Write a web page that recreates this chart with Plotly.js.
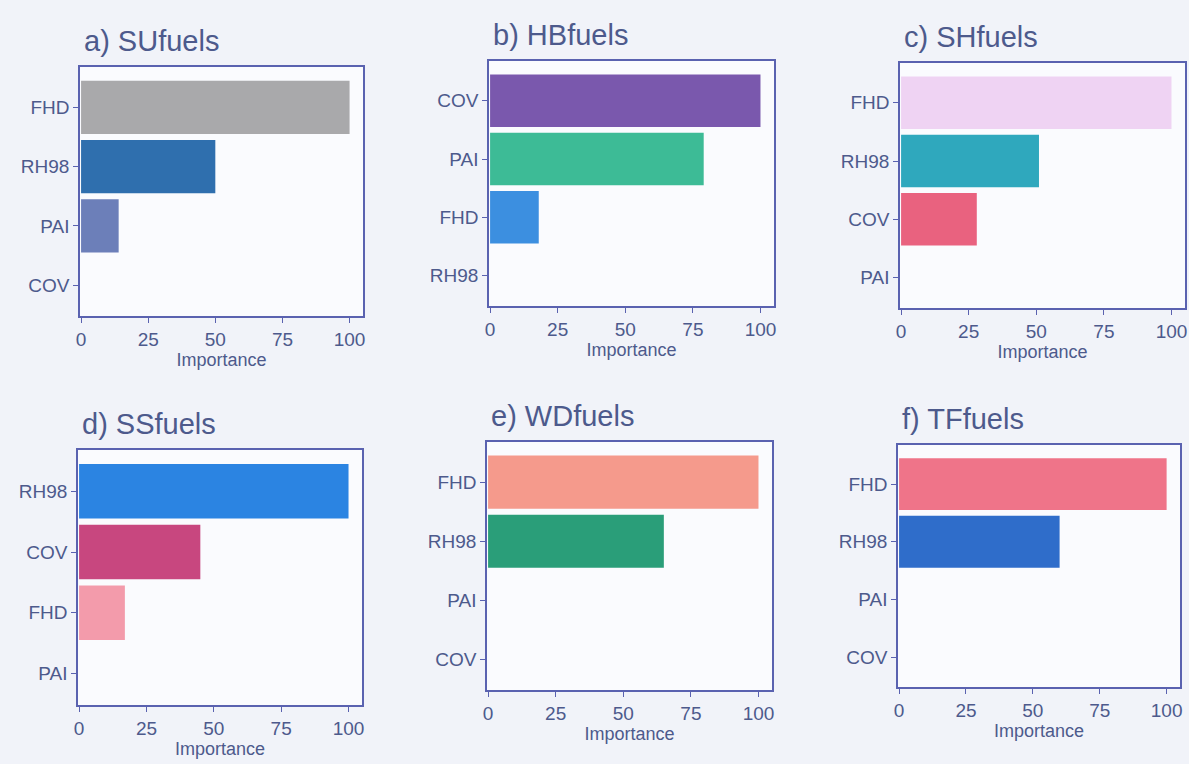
<!DOCTYPE html>
<html>
<head>
<meta charset="utf-8">
<script src="https://cdn.plot.ly/plotly-3.0.1.min.js"></script>
<style>html,body{margin:0;padding:0;background:#f1f3f9;}#chart{width:1189px;height:764px;}</style>
</head>
<body>
<div id="chart"></div>
<script>
// Panel titles
const panelTitles = ["a) SUfuels", "b) HBfuels", "c) SHfuels", "d) SSfuels", "e) WDfuels", "f) TFfuels"];

// Variables (top to bottom) per panel
const catsA = ["FHD", "RH98", "PAI", "COV"];
const catsB = ["COV", "PAI", "FHD", "RH98"];
const catsC = ["FHD", "RH98", "COV", "PAI"];
const catsD = ["RH98", "COV", "FHD", "PAI"];
const catsE = ["FHD", "RH98", "PAI", "COV"];
const catsF = ["FHD", "RH98", "PAI", "COV"];

// Importance values
const valsA = [100, 50, 14, 0];
const valsB = [100, 79, 18, 0];
const valsC = [100, 51, 28, 0];
const valsD = [100, 45, 17, 0];
const valsE = [100, 65, 0, 0];
const valsF = [100, 60, 0, 0];

// Bar colours
const colsA = ["#a9a9ab", "#2f6fae", "#6c7fb9", "#cccccc"];
const colsB = ["#7a58ad", "#3dbb96", "#3c8fe0", "#cccccc"];
const colsC = ["#efd3f3", "#2fa8bd", "#e9627f", "#cccccc"];
const colsD = ["#2b84e2", "#c8477f", "#f39bab", "#cccccc"];
const colsE = ["#f59a8c", "#2a9e79", "#cccccc", "#cccccc"];
const colsF = ["#ef7489", "#2f6dca", "#cccccc", "#cccccc"];

const xTicks = [0, 25, 50, 75, 100];

const cats = [catsA, catsB, catsC, catsD, catsE, catsF];
const vals = [valsA, valsB, valsC, valsD, valsE, valsF];
const cols = [colsA, colsB, colsC, colsD, colsE, colsF];

// pixel boxes [x0, x1, y0, y1] for each plot area
const W = 1189, H = 764;
const boxes = [
  [80, 363, 67, 316],
  [489, 774, 61, 306],
  [900, 1185, 63, 308],
  [78, 362, 450, 705],
  [487, 772, 442, 690],
  [898, 1180, 445, 687]
];

const textCol = "#4d5a8c";
const lineCol = "#5a62b0";
const traces = [];
const layout = {
  width: W, height: H,
  margin: {l: 0, r: 0, t: 0, b: 0},
  paper_bgcolor: "#f1f3f9",
  plot_bgcolor: "#fafbfe",
  showlegend: false,
  font: {family: "Liberation Sans, Arial, sans-serif", color: textCol},
  annotations: []
};

for (let i = 0; i < 6; i++) {
  const n = i === 0 ? "" : String(i + 1);
  traces.push({
    type: "bar", orientation: "h",
    x: vals[i], y: cats[i],
    xaxis: "x" + n, yaxis: "y" + n,
    width: 0.9,
    marker: {color: cols[i]},
    hoverinfo: "x+y"
  });
  const b = boxes[i];
  layout["xaxis" + n] = {
    domain: [b[0] / W, b[1] / W],
    anchor: "y" + n,
    range: [-0.4, 105],
    tickvals: xTicks,
    ticks: "outside", ticklen: 5, tickcolor: lineCol, tickwidth: 1.2,
    showline: true, linecolor: lineCol, linewidth: 1.5, mirror: true,
    showgrid: false, zeroline: false,
    tickfont: {size: 19, color: textCol},
    title: {text: "Importance", font: {size: 18, color: textCol}, standoff: 2}
  };
  layout["yaxis" + n] = {
    domain: [1 - b[3] / H, 1 - b[2] / H],
    anchor: "x" + n,
    type: "category",
    categoryorder: "array", categoryarray: cats[i],
    range: [3.52, -0.68],
    ticks: "outside", ticklen: 5, tickcolor: lineCol, tickwidth: 1.2,
    showline: true, linecolor: lineCol, linewidth: 1.5, mirror: true,
    showgrid: false, zeroline: false,
    tickfont: {size: 19, color: textCol}
  };
  layout.annotations.push({
    text: panelTitles[i],
    xref: "paper", yref: "paper",
    x: (b[0] + 2) / W, y: 1 - (b[2] - 8) / H,
    xanchor: "left", yanchor: "bottom",
    showarrow: false,
    font: {size: 29, color: textCol}
  });
}

Plotly.newPlot("chart", traces, layout, {displayModeBar: false});
</script>
</body>
</html>
